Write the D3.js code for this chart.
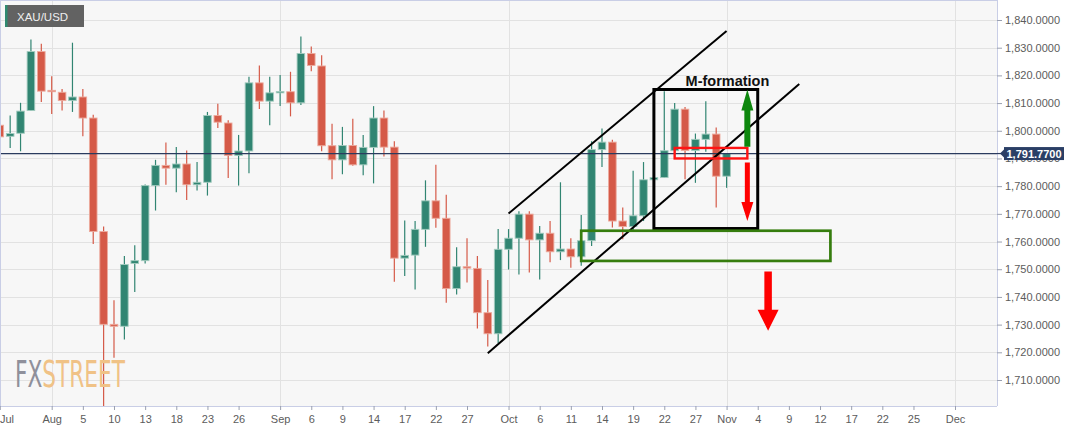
<!DOCTYPE html>
<html><head><meta charset="utf-8">
<script src="https://cdn.jsdelivr.net/npm/d3@7"></script>
<style>
html,body{margin:0;padding:0;background:#fff;}
svg{display:block;font-family:"Liberation Sans",Arial,sans-serif;}
</style></head><body>
<svg id="c" width="1067" height="432"></svg>
<script>
// ---------- DATA (XAU/USD daily candles) ----------
const dates = ["2021-07-26","2021-07-27","2021-07-28","2021-07-29","2021-07-30",
"2021-08-02","2021-08-03","2021-08-04","2021-08-05","2021-08-06",
"2021-08-09","2021-08-10","2021-08-11","2021-08-12","2021-08-13",
"2021-08-16","2021-08-17","2021-08-18","2021-08-19","2021-08-20",
"2021-08-23","2021-08-24","2021-08-25","2021-08-26","2021-08-27",
"2021-08-30","2021-08-31","2021-09-01","2021-09-02","2021-09-03",
"2021-09-06","2021-09-07","2021-09-08","2021-09-09","2021-09-10",
"2021-09-13","2021-09-14","2021-09-15","2021-09-16","2021-09-17",
"2021-09-20","2021-09-21","2021-09-22","2021-09-23","2021-09-24",
"2021-09-27","2021-09-28","2021-09-29","2021-09-30","2021-10-01",
"2021-10-04","2021-10-05","2021-10-06","2021-10-07","2021-10-08",
"2021-10-11","2021-10-12","2021-10-13","2021-10-14","2021-10-15",
"2021-10-18","2021-10-19","2021-10-20","2021-10-21","2021-10-22",
"2021-10-25","2021-10-26","2021-10-27","2021-10-28","2021-10-29",
"2021-11-01"];
const open = [1802.0,1798.0,1799.1,1807.3,1828.6,
1814.6,1813.9,1810.9,1812.2,1804.6,
1763.6,1730.1,1729.4,1752.1,1753.1,
1780.2,1787.5,1786.5,1788.0,1780.5,
1781.4,1805.5,1802.8,1791.1,1792.7,
1817.3,1810.7,1813.7,1814.1,1810.1,
1827.9,1823.4,1794.6,1789.5,1794.7,
1787.7,1794.0,1804.6,1794.1,1754.0,
1755.1,1764.4,1774.7,1768.4,1743.0,
1750.9,1750.3,1734.3,1726.7,1757.2,
1761.2,1769.9,1760.6,1763.0,1756.3,
1757.3,1754.5,1760.3,1793.2,1795.9,
1767.4,1765.4,1769.3,1782.3,1783.1,
1792.8,1807.8,1792.9,1796.9,1798.8,
1783.6];
const high = [1811.7,1805.5,1810.1,1833.0,1831.4,
1819.7,1815.1,1831.8,1815.1,1805.8,
1765.4,1738.8,1754.8,1758.7,1780.6,
1789.5,1795.8,1794.1,1792.9,1788.7,
1806.8,1809.8,1803.8,1798.5,1819.5,
1823.6,1819.5,1820.1,1821.3,1834.0,
1830.4,1827.3,1802.5,1801.4,1804.3,
1798.5,1808.9,1807.3,1796.2,1767.6,
1767.4,1782.1,1787.7,1776.9,1757.9,
1761.2,1754.8,1746.1,1764.5,1764.5,
1770.9,1770.9,1765.6,1767.4,1781.4,
1761.2,1769.6,1796.2,1800.8,1796.8,
1772.3,1785.6,1788.7,1788.0,1814.3,
1810.0,1808.6,1799.0,1810.7,1801.2,
1791.8];
const low = [1796.6,1793.8,1792.6,1807.1,1810.4,
1806.1,1807.3,1806.8,1798.0,1759.1,
1690.0,1718.0,1724.6,1741.8,1752.1,
1771.2,1780.5,1777.8,1775.0,1778.4,
1776.6,1801.0,1782.9,1780.2,1784.7,
1807.9,1802.0,1808.9,1805.2,1809.3,
1821.5,1792.6,1782.5,1784.3,1787.4,
1783.9,1781.0,1790.7,1745.5,1747.6,
1742.7,1758.1,1765.0,1737.9,1740.9,
1745.2,1728.6,1722.1,1723.4,1749.9,
1748.1,1748.8,1746.3,1752.5,1753.3,
1750.5,1751.3,1758.4,1786.9,1765.1,
1760.8,1763.6,1767.4,1777.0,1782.9,
1792.6,1782.5,1781.2,1792.4,1772.3,
1779.4];
const close = [1797.8,1799.0,1807.1,1828.6,1814.3,
1814.1,1810.9,1812.2,1804.6,1763.6,
1730.1,1729.4,1751.7,1753.1,1780.2,
1787.5,1786.5,1788.0,1780.5,1781.4,
1805.5,1803.1,1791.1,1792.7,1817.3,
1810.7,1813.7,1814.2,1810.1,1827.9,
1823.6,1794.6,1789.5,1794.7,1787.7,
1794.0,1804.6,1794.1,1754.0,1755.0,
1764.4,1774.7,1768.4,1743.0,1750.9,
1750.4,1734.3,1726.7,1757.2,1761.2,
1769.9,1760.6,1763.0,1756.3,1757.3,
1754.5,1760.3,1793.2,1795.9,1767.4,
1765.4,1769.3,1782.3,1783.1,1792.8,
1807.8,1792.9,1796.9,1798.8,1783.6,
1791.77];
const lastPrice = 1791.77;

const yTicks = [1710,1720,1730,1740,1750,1760,1770,1780,1790,1800,1810,1820,1830,1840];
const xTickDates = ["2021-07-26","2021-08-02","2021-08-05","2021-08-10","2021-08-13","2021-08-18","2021-08-23","2021-08-26",
"2021-09-01","2021-09-06","2021-09-09","2021-09-14","2021-09-17","2021-09-22","2021-09-27",
"2021-10-01","2021-10-06","2021-10-11","2021-10-14","2021-10-19","2021-10-22","2021-10-27",
"2021-11-01","2021-11-04","2021-11-09","2021-11-12","2021-11-17","2021-11-22","2021-11-25","2021-12-01"];
const xTickLabels = ["Jul","Aug","5","10","13","18","23","26","Sep","6","9","14","17","22","27",
"Oct","6","11","14","19","22","27","Nov","4","9","12","17","22","25","Dec"];
const monthStarts = ["2021-08-02","2021-09-01","2021-10-01","2021-11-01","2021-12-01"];

// annotations (date, price anchors)
const channelLower = [["2021-09-29",1719.7],["2021-11-10",1816.9]];
const channelUpper = [["2021-10-01",1770.1],["2021-11-01",1836.0]];
const mBox = [["2021-10-21",1814.9],["2021-11-04",1764.7]];
const redBox = [["2021-10-25",1793.8],["2021-11-03",1790.0]];
const greenBox = [["2021-10-12",1763.9],["2021-11-15",1753.0]];
const arrowUp = ["2021-11-03",1794.2,1814.9];
const arrowDownSmall = ["2021-11-03",1788.5,1767.4];
const arrowDownBig = ["2021-11-05",1749.2,1727.8];
const mLabel = ["2021-10-26",1816.1,"M-formation"];

// ---------- LAYOUT ----------
const W=1067,H=432, plotR=997, plotB=406, plotT=1;
const svg=d3.select("#c");

function tradingDays(s,e){const out=[];let d=new Date(s+"T00:00:00Z");const end=new Date(e+"T00:00:00Z");
 while(d<=end){const w=d.getUTCDay(); if(w!==0&&w!==6) out.push(d.toISOString().slice(0,10)); d=new Date(d.getTime()+864e5);} return out;}
const cal=tradingDays("2021-07-26","2021-12-15");
const idx=new Map(cal.map((d,i)=>[d,i]));
const x=d3.scaleLinear().domain([idx.get("2021-08-02"),idx.get("2021-12-01")]).range([51.7,955]);
const y=d3.scaleLinear().domain([1710,1840]).range([380,20]);
const X=d=>x(idx.get(d));

svg.append("rect").attr("width",W).attr("height",H).attr("fill","#fff");
svg.append("rect").attr("x",0).attr("y",plotT).attr("width",plotR).attr("height",plotB-plotT).attr("fill","#f7f7f7");

svg.append("defs").append("clipPath").attr("id","clip").append("rect")
 .attr("x",0).attr("y",plotT).attr("width",plotR).attr("height",plotB-plotT);

const g=svg.append("g").attr("clip-path","url(#clip)");
// grid
g.selectAll("line.hg").data(yTicks).join("line").attr("class","hg")
 .attr("x1",0).attr("x2",plotR).attr("y1",d=>Math.round(y(d))+0.5).attr("y2",d=>Math.round(y(d))+0.5)
 .attr("stroke","#e2e2e2").attr("stroke-width",1);
g.selectAll("line.vg").data(monthStarts).join("line").attr("class","vg")
 .attr("y1",plotT).attr("y2",plotB).attr("x1",d=>Math.round(X(d))+0.5).attr("x2",d=>Math.round(X(d))+0.5)
 .attr("stroke","#e2e2e2").attr("stroke-width",1);

// watermark (one text, two coloured parts)
const wm=svg.append("text").attr("x",15).attr("y",387)
 .attr("font-family","'Liberation Sans Narrow','DejaVu Sans Condensed',sans-serif").attr("font-size",37)
 .attr("textLength",110).attr("lengthAdjust","spacingAndGlyphs");
wm.append("tspan").text("FX").attr("fill","#8f909b");
wm.append("tspan").text("STREET").attr("fill","#f0c286");

// candles
const candles=dates.map((d,i)=>({d,o:open[i],h:high[i],l:low[i],c:close[i]}));
const up="#318572", dn="#d55a48", upS="#a3cbbf", dnS="#ecaa9d";
const cg=g.append("g");
cg.selectAll("line.wick").data(candles).join("line").attr("class","wick")
 .attr("x1",d=>X(d.d)).attr("x2",d=>X(d.d)).attr("y1",d=>y(d.h)).attr("y2",d=>y(d.l))
 .attr("stroke",d=>d.c>=d.o?up:dn).attr("stroke-width",1.2);
cg.selectAll("rect.body").data(candles).join("rect").attr("class","body")
 .attr("x",d=>X(d.d)-3.8).attr("width",7.6)
 .attr("y",d=>y(Math.max(d.o,d.c))).attr("height",d=>Math.max(1.4,Math.abs(y(d.o)-y(d.c))))
 .attr("fill",d=>d.c>=d.o?up:dn).attr("stroke",d=>d.c>=d.o?upS:dnS).attr("stroke-width",0.9);

// price line
g.append("line").attr("x1",0).attr("x2",plotR).attr("y1",y(lastPrice)).attr("y2",y(lastPrice))
 .attr("stroke","#2a3b5e").attr("stroke-width",1.2);

// annotations
const ann=svg.append("g");
const line=d3.line().x(p=>X(p[0])).y(p=>y(p[1]));
[channelLower,channelUpper].forEach(c=>ann.append("path").attr("d",line(c)).attr("stroke","#000").attr("stroke-width",2).attr("fill","none"));
function box(b,color,w){ann.append("rect").attr("x",X(b[0][0])).attr("y",y(b[0][1]))
 .attr("width",X(b[1][0])-X(b[0][0])).attr("height",y(b[1][1])-y(b[0][1]))
 .attr("fill","none").attr("stroke",color).attr("stroke-width",w);}
box(mBox,"#000",3);
box(greenBox,"#367d0e",2.7);
box(redBox,"#ff1414",2.4);
function arrow(a,color,sw,hw,hl){
 const cx=X(a[0]), y0=y(a[1]), y1=y(a[2]); const dir=Math.sign(y1-y0); const yb=y1-dir*hl;
 const pts=[[cx-sw/2,y0],[cx+sw/2,y0],[cx+sw/2,yb],[cx+hw/2,yb],[cx,y1],[cx-hw/2,yb],[cx-sw/2,yb]];
 ann.append("polygon").attr("points",pts.map(p=>p.join(",")).join(" ")).attr("fill",color);
}
arrow(arrowUp,"#0d870d",6,12,21);
arrow(arrowDownSmall,"#ff0000",5,12,19);
arrow(arrowDownBig,"#ff0000",7.5,21,21);
ann.append("text").attr("x",X(mLabel[0])+0.5).attr("y",y(mLabel[1])).text(mLabel[2])
 .attr("font-size",14.5).attr("font-weight","bold").attr("fill","#111");

// borders
svg.append("line").attr("x1",0).attr("x2",plotR).attr("y1",0.5).attr("y2",0.5).attr("stroke","#c9cee6");
svg.append("line").attr("x1",0.5).attr("x2",0.5).attr("y1",0).attr("y2",plotB).attr("stroke","#c9cee6");

// axes
const yAxis=svg.append("g").attr("transform",`translate(${plotR},0)`)
 .call(d3.axisRight(y).tickValues(yTicks).tickFormat(d3.format(",.4f")).tickSize(5).tickPadding(3));
yAxis.select(".domain").attr("stroke","#c9cee6").attr("d",`M0.5,0V${plotB}`);
yAxis.selectAll(".tick line").attr("stroke","#9aa0b0");
yAxis.selectAll("text").attr("font-size",11).attr("fill","#5c5c5c").attr("font-family","'Liberation Sans',Arial,sans-serif");

const tickIdx=xTickDates.map(d=>idx.get(d));
const xAxis=svg.append("g").attr("transform",`translate(0,${plotB})`)
 .call(d3.axisBottom(x).tickValues(tickIdx).tickFormat((d,i)=>xTickLabels[i]).tickSize(4).tickPadding(5));
xAxis.select(".domain").attr("stroke","#c9cee6").attr("d",`M0,0.5H${plotR}`);
xAxis.selectAll(".tick line").attr("stroke","#9aa0b0");
xAxis.selectAll("text").attr("font-size",11).attr("fill","#5c5c5c").attr("font-family","'Liberation Sans',Arial,sans-serif")
 .each(function(){const n=this; const bb=n.getBBox(); const tx=+d3.select(n.parentNode).attr("transform").match(/translate\(([-\d.]+)/)[1];
   if(tx+bb.x<0){d3.select(n).attr("text-anchor","start").attr("x",-tx);} });

// last price label (covers the 1,790 tick label, as in the original)
const yp=y(lastPrice);
svg.append("line").attr("x1",plotR).attr("x2",1002).attr("y1",yp).attr("y2",yp).attr("stroke","#2a3b5e").attr("stroke-width",1.2);
svg.append("polygon").attr("points",`${1000},${yp} ${1004},${yp-4} ${1004},${yp+4}`).attr("fill","#2a3f66");
svg.append("rect").attr("x",1004).attr("y",yp-6.5).attr("width",60).attr("height",13).attr("fill","#2a3f66");
svg.append("text").attr("x",1034).attr("y",yp+4).attr("text-anchor","middle").text(d3.format(",.4f")(lastPrice))
 .attr("font-size",11).attr("font-weight","bold").attr("fill","#fff");

// symbol badge
svg.append("rect").attr("x",5).attr("y",5).attr("width",79).attr("height",22).attr("fill","#626262");
svg.append("rect").attr("x",5).attr("y",5).attr("width",2.5).attr("height",22).attr("fill","#2f8a70");
svg.append("text").attr("x",17).attr("y",20.5).text("XAU/USD").attr("font-size",11.5).attr("fill","#eeeeee");
</script>
</body></html>
